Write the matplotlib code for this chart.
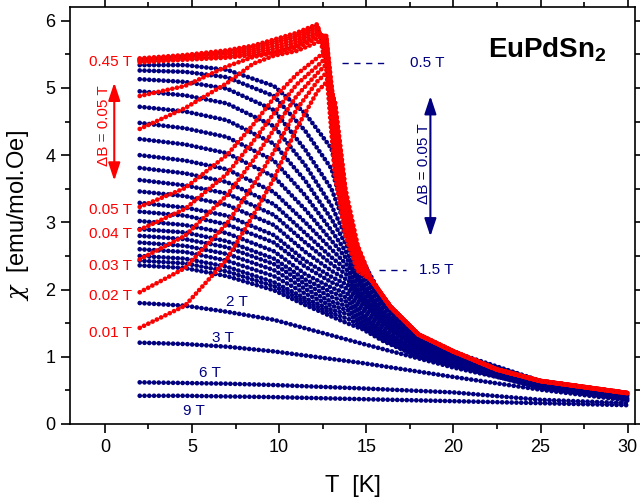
import matplotlib
matplotlib.use("Agg")
import matplotlib.pyplot as plt
from matplotlib.ticker import MultipleLocator

plt.rcParams['font.family'] = ['Liberation Sans', 'DejaVu Sans']
plt.rcParams['mathtext.fontset'] = 'custom'
plt.rcParams['mathtext.rm'] = 'Liberation Sans'
plt.rcParams['mathtext.it'] = 'DejaVu Serif:italic'
plt.rcParams['mathtext.bf'] = 'Liberation Sans:bold'

RED = '#ff0000'
NAVY = '#000080'

# ---------------- data ----------------
# blue family 0.5 T .. 1.5 T (step 0.05 T), values listed per temperature
blue_fields = [0.5, 0.55, 0.6, 0.65, 0.7, 0.75, 0.8, 0.85, 0.9, 0.95, 1.0,
               1.05, 1.1, 1.15, 1.2, 1.25, 1.3, 1.35, 1.4, 1.45, 1.5]
blue_T = [2, 4.6, 7, 9.7, 11.5, 13, 14, 14.8, 16, 18, 20, 25, 30]
chi_b_2 = [5.34, 5.26, 5.13, 4.95, 4.72, 4.48, 4.24, 4.00, 3.81, 3.63, 3.46,
           3.29, 3.16, 3.02, 2.90, 2.80, 2.70, 2.60, 2.50, 2.43, 2.36]
chi_b_4_6 = [5.34, 5.24, 5.09, 4.89, 4.65, 4.40, 4.16, 3.92, 3.73, 3.55, 3.39,
             3.22, 3.10, 2.96, 2.85, 2.75, 2.65, 2.56, 2.46, 2.39, 2.32]
chi_b_7 = [5.27, 5.16, 4.99, 4.77, 4.52, 4.27, 4.03, 3.79, 3.60, 3.43, 3.26,
           3.10, 2.97, 2.84, 2.72, 2.63, 2.53, 2.43, 2.34, 2.27, 2.20]
chi_b_9_7 = [5.03, 4.88, 4.67, 4.43, 4.17, 3.92, 3.68, 3.45, 3.27, 3.11, 2.96,
             2.81, 2.70, 2.57, 2.46, 2.38, 2.29, 2.20, 2.11, 2.05, 1.99]
chi_b_11_5 = [4.62, 4.36, 4.08, 3.85, 3.62, 3.40, 3.19, 3.00, 2.84, 2.70, 2.56,
              2.43, 2.34, 2.23, 2.15, 2.08, 2.01, 1.94, 1.87, 1.82, 1.77]
chi_b_13 = [4.10, 3.80, 3.50, 3.25, 3.05, 2.88, 2.73, 2.60, 2.48, 2.38, 2.28,
            2.19, 2.11, 2.03, 1.96, 1.89, 1.82, 1.76, 1.70, 1.65, 1.60]
chi_b_14 = [3.00, 2.92, 2.82, 2.70, 2.60, 2.50, 2.42, 2.34, 2.27, 2.20, 2.13,
            2.06, 2.00, 1.93, 1.87, 1.81, 1.75, 1.69, 1.63, 1.56, 1.49]
chi_b_14_8 = [2.42, 2.35, 2.28, 2.22, 2.16, 2.10, 2.04, 1.99, 1.94, 1.89, 1.84,
              1.79, 1.74, 1.69, 1.64, 1.60, 1.56, 1.52, 1.48, 1.44, 1.41]
chi_b_16 = [1.85, 1.81, 1.77, 1.73, 1.69, 1.65, 1.62, 1.59, 1.56, 1.53, 1.50,
            1.47, 1.44, 1.41, 1.38, 1.35, 1.33, 1.30, 1.28, 1.25, 1.23]
chi_b_18 = [1.33, 1.31, 1.29, 1.27, 1.25, 1.23, 1.21, 1.19, 1.17, 1.16, 1.14,
            1.12, 1.11, 1.09, 1.08, 1.06, 1.05, 1.04, 1.02, 1.01, 1.00]
chi_b_20 = [1.07, 1.06, 1.05, 1.04, 1.03, 1.02, 1.01, 1.00, 0.99, 0.98, 0.97,
            0.96, 0.95, 0.94, 0.93, 0.92, 0.92, 0.91, 0.90, 0.89, 0.88]
chi_b_25 = [0.64, 0.635, 0.63, 0.625, 0.62, 0.615, 0.61, 0.605, 0.60, 0.595, 0.59,
            0.585, 0.58, 0.575, 0.57, 0.565, 0.56, 0.555, 0.55, 0.54, 0.53]
chi_b_30 = [0.46, 0.455, 0.45, 0.445, 0.44, 0.435, 0.43, 0.425, 0.42, 0.415, 0.41,
            0.405, 0.40, 0.395, 0.39, 0.385, 0.38, 0.38, 0.375, 0.37, 0.37]

# high field curves
high_T = [2, 4.6, 7, 9.7, 14.7, 20, 25, 30]
chi_2T = [1.80, 1.76, 1.67, 1.55, 1.20, 0.84, 0.56, 0.38]
chi_3T = [1.21, 1.19, 1.15, 1.08, 0.91, 0.70, 0.51, 0.35]
chi_6T = [0.62, 0.61, 0.60, 0.58, 0.53, 0.47, 0.36, 0.31]
chi_9T = [0.42, 0.42, 0.41, 0.40, 0.37, 0.34, 0.31, 0.28]

# red family 0.01 T .. 0.45 T, ordered-state part
red_T = [2, 4.6, 7, 8.5, 9.7, 11, 12.2, 12.7, 13.2, 13.8, 14.5]
chi_r_045 = [5.44, 5.49, 5.56, 5.63, 5.72, 5.82, 5.95, 5.30, 3.70, 2.80, 2.28]
chi_r_040 = [5.43, 5.48, 5.54, 5.61, 5.69, 5.79, 5.93, 5.45, 3.85, 2.88, 2.32]
chi_r_035 = [5.42, 5.47, 5.52, 5.58, 5.66, 5.76, 5.90, 5.55, 4.00, 2.96, 2.36]
chi_r_030 = [5.41, 5.46, 5.50, 5.55, 5.62, 5.72, 5.87, 5.65, 4.15, 3.04, 2.40]
chi_r_025 = [5.40, 5.44, 5.47, 5.52, 5.58, 5.68, 5.83, 5.72, 4.28, 3.12, 2.44]
chi_r_020 = [5.38, 5.42, 5.45, 5.49, 5.54, 5.64, 5.79, 5.78, 4.40, 3.20, 2.48]
chi_r_015 = [4.88, 5.03, 5.32, 5.46, 5.52, 5.60, 5.74, 5.78, 4.50, 3.27, 2.52]
chi_r_010 = [4.39, 4.70, 5.07, 5.36, 5.48, 5.55, 5.68, 5.74, 4.58, 3.33, 2.55]
chi_r_005 = [3.23, 3.51, 4.00, 4.45, 4.85, 5.20, 5.45, 5.55, 4.65, 3.38, 2.58]
chi_r_004 = [2.89, 3.20, 3.72, 4.20, 4.62, 5.05, 5.33, 5.45, 4.70, 3.42, 2.60]
chi_r_003 = [2.45, 2.80, 3.40, 3.92, 4.38, 4.88, 5.22, 5.35, 4.74, 3.45, 2.62]
chi_r_002 = [1.96, 2.32, 2.98, 3.55, 4.05, 4.68, 5.10, 5.22, 4.78, 3.48, 2.64]
chi_r_001 = [1.43, 1.76, 2.45, 3.10, 3.65, 4.40, 4.95, 5.08, 4.80, 3.50, 2.66]
# paramagnetic part shared by the red curves
para_T = [15.3, 16.4, 18, 20, 22.5, 25, 30]
para_chi = [2.14, 1.74, 1.33, 1.08, 0.81, 0.64, 0.46]

red_labels = ['0.45 T', '0.05 T', '0.04 T', '0.03 T', '0.02 T', '0.01 T']
red_label_y = [5.39, 3.18, 2.82, 2.35, 1.91, 1.36]
blue_labels = ['2 T', '3 T', '6 T', '9 T']
blue_label_x = [7.6, 6.75, 6.03, 5.1]
blue_label_y = [1.82, 1.28, 0.76, 0.19]

# ---------------- plot ----------------
fig = plt.figure(figsize=(6.4, 5.01), dpi=100)
ax = fig.add_axes([70 / 640, 77 / 501, 565 / 640, 416.7 / 501])

DOT = dict(lw=3.4, ls=(0, (0.01, 1.0)), dash_capstyle='round')


def draw_curve(T, chi, color, z):
    ax.plot(T, chi, color='k', lw=0.5, zorder=z)
    ax.plot(T, chi, color=color, zorder=z, **DOT)


blue_cols = [chi_b_2, chi_b_4_6, chi_b_7, chi_b_9_7, chi_b_11_5, chi_b_13, chi_b_14,
             chi_b_14_8, chi_b_16, chi_b_18, chi_b_20, chi_b_25, chi_b_30]
for i in range(len(blue_fields)):
    draw_curve(blue_T, [col[i] for col in blue_cols], NAVY, 2)

for chi in [chi_2T, chi_3T, chi_6T, chi_9T]:
    draw_curve(high_T, chi, NAVY, 2)

for chi in [chi_r_001, chi_r_002, chi_r_003, chi_r_004, chi_r_005, chi_r_010, chi_r_015,
            chi_r_020, chi_r_025, chi_r_030, chi_r_035, chi_r_040, chi_r_045]:
    draw_curve(red_T + para_T, chi + para_chi, RED, 3)

# labels for the field values
for lab, y in zip(red_labels, red_label_y):
    ax.text(1.55, y, lab, color=RED, fontsize=11, ha='right', va='center', zorder=5)
for lab, x, y in zip(blue_labels, blue_label_x, blue_label_y):
    ax.text(x, y, lab, color=NAVY, fontsize=11, ha='center', va='center', zorder=5)

ax.plot([13.6, 16.3], [5.37, 5.37], color=NAVY, lw=1, ls=(0, (4.5, 4)))
ax.text(18.5, 5.37, '0.5 T', color=NAVY, fontsize=11, ha='center', va='center')
ax.plot([15.75, 17.3], [2.29, 2.29], color=NAVY, lw=1, ls=(0, (4.5, 4)))
ax.text(19.0, 2.29, '1.5 T', color=NAVY, fontsize=11, ha='center', va='center')

arrow = '<|-|>,head_length=0.9,head_width=0.3'
ax.annotate('', xy=(0.54, 5.12), xytext=(0.54, 3.58),
            arrowprops=dict(arrowstyle=arrow, color=RED, lw=1.5, mutation_scale=12))
ax.text(-0.04, 4.44, 'ΔB = 0.05 T', color=RED, fontsize=11, rotation=90,
        ha='center', va='center')
ax.annotate('', xy=(18.68, 4.92), xytext=(18.68, 2.75),
            arrowprops=dict(arrowstyle=arrow, color=NAVY, lw=1.5, mutation_scale=12))
ax.text(18.33, 3.88, 'ΔB = 0.05 T', color=NAVY, fontsize=11, rotation=90,
        ha='center', va='center')

ax.text(25.4, 5.57, r'EuPdSn$_\mathbf{2}$', fontsize=20, fontweight='bold',
        ha='center', va='center')

ax.set_xlim(-2, 30.42)
ax.set_ylim(0, 6.2)
ax.xaxis.set_major_locator(MultipleLocator(5))
ax.xaxis.set_minor_locator(MultipleLocator(2.5))
ax.yaxis.set_major_locator(MultipleLocator(1))
ax.yaxis.set_minor_locator(MultipleLocator(0.5))
ax.tick_params(which='both', direction='out', top=True, right=True, width=1.2)
ax.tick_params(which='major', length=6.5, labelsize=13, pad=4)
ax.tick_params(which='minor', length=3.5)
for s in ax.spines.values():
    s.set_linewidth(1.2)

ax.set_xlabel('T  [K]', fontsize=17, labelpad=14)
ax.set_ylabel(r'$\chi$  [emu/mol.Oe]', fontsize=17, labelpad=10)

fig.savefig('out.png', dpi=100)
